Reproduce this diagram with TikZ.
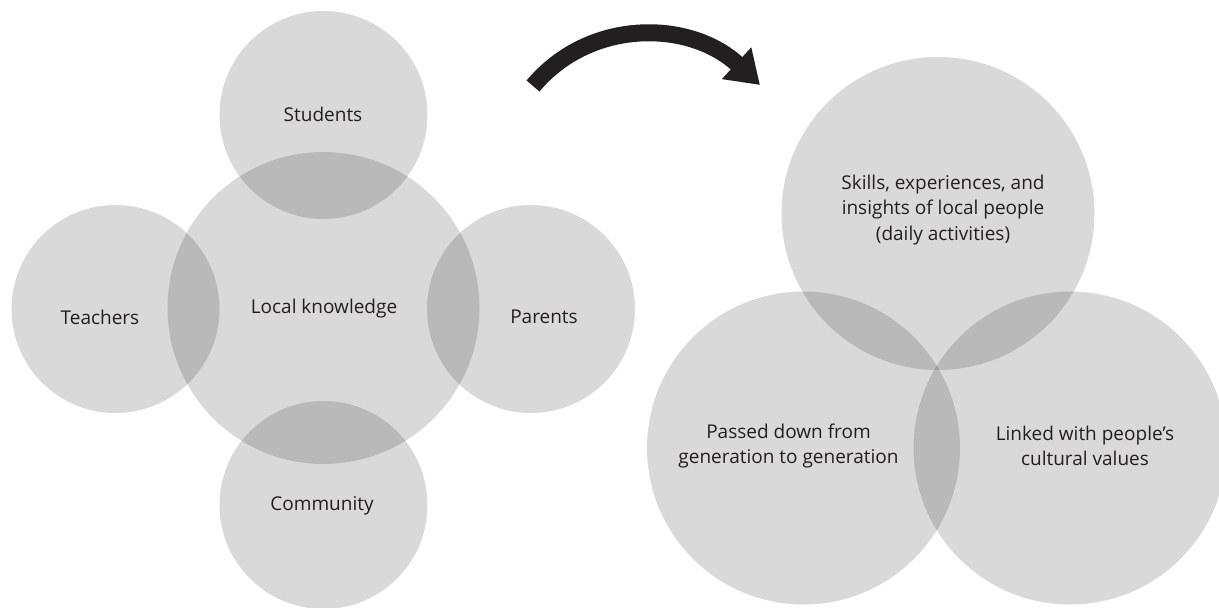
\documentclass[tikz,border=0pt]{standalone}
\usepackage{fontspec}
\setmainfont{Open Sans}
\usetikzlibrary{arrows.meta}
\definecolor{inkdark}{HTML}{231F20}
\tikzset{
	blob/.style={circle,fill=black,fill opacity=0.15,draw=none,inner sep=0pt},
	caption/.style={text=inkdark,align=center,font=\fontsize{19}{25.5}\selectfont}
}
\begin{document}
\begin{tikzpicture}[x=1pt,y=-1pt]
	\useasboundingbox (0,0) rectangle (1219,608);
	% left group
	\begin{scope}[every node/.style={blob,minimum size=208pt}]
	\node (stu) at (323.5,115) {};
	\node (tea) at (115.5,309) {};
	\node (par) at (531,309) {};
	\node (com) at (323.5,505) {};
	\end{scope}
	\node[blob,minimum size=312pt] (lok) at (323.5,308) {};
	
	% right group
	\begin{scope}[every node/.style={blob,minimum size=313pt}]
	\node (ski) at (938,213.5) {};
	\node (pas) at (803.5,448) {};
	\node (lin) at (1070,448) {};
	\end{scope}
	
	% texts
	\node[caption] (tstu) at (323,114) {Students};
	\node[caption] (tlok) at (324,309) {Local knowledge};
	\node[caption] (ttea) at (100,317) {Teachers};
	\node[caption] (tpar) at (544,317) {Parents};
	\node[caption] (tcom) at (322,506) {Community};
	\node[caption] (tski) at (943,209.6) {Skills, experiences, and\\insights of local people\\(daily activities)};
	\node[caption] (tpas) at (788.5,445.8) {Passed down from\\generation to generation};
	\node[caption] (tlin) at (1085,445.8) {Linked with people’s\\cultural values};
	
	% arrow
	\coordinate (from) at (533,86);
	\coordinate (to) at (760,85);
	\draw[line width=17pt,inkdark,-{Triangle[length=32pt,width=41pt]}]
		(from) .. controls (590,18) and (690,20) .. (to);
\end{tikzpicture}
\end{document}
